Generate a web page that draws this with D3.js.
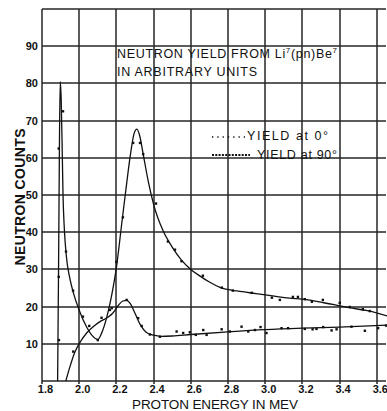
<!DOCTYPE html>
<html>
<head>
<meta charset="utf-8">
<script src="https://cdn.jsdelivr.net/npm/d3@7"></script>
</head>
<body style="margin:0">
<svg id="chart" width="387" height="411"></svg>
<script>
// tick values
const xTicks = [1.8, 2.0, 2.2, 2.4, 2.6, 2.8, 3.0, 3.2, 3.4, 3.6];
const yTicks = [10, 20, 30, 40, 50, 60, 70, 80, 90];

// smooth curve, yield at 0 deg (energy MeV, counts)
const curve0 = [
  [1.884, 0], [1.889, 30], [1.894, 65], [1.898, 80.5], [1.903, 76], [1.908, 64],
  [1.913, 50], [1.920, 41], [1.930, 34], [1.950, 27.5], [1.970, 23.5], [2.000, 19],
  [2.040, 14.5], [2.070, 12.2], [2.100, 11.2], [2.120, 12.8], [2.150, 17.5], [2.180, 24.5],
  [2.200, 30.5], [2.228, 42], [2.250, 51], [2.273, 60], [2.295, 66.5], [2.310, 67.7],
  [2.325, 66], [2.344, 61], [2.370, 54], [2.400, 47.5], [2.450, 40.5], [2.500, 36],
  [2.550, 32.5], [2.600, 30], [2.650, 28.2], [2.700, 26.6], [2.760, 25.1], [2.850, 24.2],
  [2.950, 23.5], [3.050, 22.8], [3.130, 22.3], [3.200, 22], [3.310, 21.1], [3.400, 20.2],
  [3.450, 19.7], [3.550, 18.9], [3.655, 17.5]
];

// smooth curve, yield at 90 deg
const curve90 = [
  [1.928, 0], [1.950, 3.8], [1.977, 7.8], [2.000, 10], [2.040, 12.9], [2.080, 14.8],
  [2.110, 15.9], [2.150, 17], [2.180, 18.2], [2.210, 20.3], [2.235, 21.5], [2.255, 21.7],
  [2.275, 20.8], [2.300, 18.2], [2.330, 15], [2.360, 13.1], [2.400, 12.3], [2.440, 12],
  [2.500, 12.1], [2.600, 12.5], [2.800, 13.2], [3.000, 13.8], [3.200, 14.2], [3.400, 14.5],
  [3.655, 15]
];

// measured points, 0 deg
const points0 = [
  [1.891, 11], [1.890, 28], [1.890, 62.5], [1.913, 72.5], [1.929, 34.8], [1.967, 24.3],
  [2.020, 17.3], [2.100, 11], [2.200, 32], [2.235, 44], [2.290, 64], [2.327, 64],
  [2.344, 61], [2.413, 47.7], [2.477, 37.5], [2.515, 35.3], [2.550, 32.2], [2.665, 28.3],
  [2.767, 25.1], [2.826, 24.3], [2.928, 23.7], [3.036, 22.4], [3.079, 21.8], [3.149, 22.6],
  [3.176, 22.6], [3.213, 22], [3.251, 21.3], [3.310, 21.8], [3.401, 21], [3.455, 19.9],
  [3.525, 19.3], [3.562, 18.8]
];

// measured points, 90 deg
const points90 = [
  [1.968, 7.9], [2.054, 14.8], [2.120, 17], [2.165, 19.1], [2.175, 19.6], [2.255, 21.8],
  [2.317, 16.9], [2.336, 14.8], [2.380, 12.5], [2.434, 11.9], [2.524, 13.3], [2.559, 12.9],
  [2.595, 13.1], [2.627, 12.4], [2.667, 13.7], [2.685, 12.4], [2.766, 13.9], [2.810, 13.3],
  [2.873, 14.6], [2.909, 13.3], [2.945, 13.7], [2.975, 14.5], [3.007, 12.9], [3.088, 14.2],
  [3.123, 14.2], [3.213, 14], [3.255, 13.9], [3.276, 14], [3.312, 14.5], [3.357, 13.6],
  [3.384, 13.9], [3.464, 14.6], [3.536, 13.5], [3.607, 14.2], [3.650, 14.9]
];

const plotLeft = 42, plotRight = 386, plotTop = 9, plotBottom = 381;
const font = "Liberation Sans, Arial, sans-serif";

const svg = d3.select("#chart");

// Scales
const x = d3.scaleLinear().domain([1.8, 3.655]).range([42, 387]);
const y = d3.scaleLinear().domain([0, 100]).range([plotBottom, plotTop]);

// Grid as one path built from the scales (0 and 100 make the bottom and top edges)
const gridPath = d3.path();
[0, ...yTicks, 100].forEach(v => {
  gridPath.moveTo(plotLeft, Math.round(y(v)));
  gridPath.lineTo(plotRight, Math.round(y(v)));
});
xTicks.forEach(v => {
  gridPath.moveTo(Math.round(x(v)), plotTop);
  gridPath.lineTo(Math.round(x(v)), plotBottom + 3);
});
svg.append("path")
  .attr("d", gridPath.toString())
  .attr("fill", "none")
  .attr("stroke", "#000")
  .attr("stroke-opacity", 0.85)
  .attr("stroke-width", 1.5);

// Y axis labels
const yAxis = d3.axisLeft(y)
  .tickValues(yTicks)
  .tickFormat(d3.format("d"))
  .tickSize(0)
  .tickPadding(4);

const yg = svg.append("g")
  .attr("transform", `translate(${plotLeft},0)`)
  .call(yAxis);
yg.select(".domain").remove();
yg.selectAll(".tick text")
  .attr("fill", "#111")
  .attr("font-size", 11).attr("font-weight", "bold")
  .attr("font-family", font);

// X axis labels
const xAxis = d3.axisBottom(x)
  .tickValues(xTicks)
  .tickFormat(d3.format(".1f"))
  .tickSize(0)
  .tickPadding(4);

const xg = svg.append("g")
  .attr("transform", `translate(0,${plotBottom})`)
  .call(xAxis);
xg.select(".domain").remove();
xg.selectAll(".tick text")
  .attr("dx", 3)
  .attr("fill", "#111")
  .attr("font-size", 11).attr("font-weight", "bold")
  .attr("font-family", font);

// Curves
const lineGen = d3.line()
  .x(d => x(d[0]))
  .y(d => y(d[1]))
  .curve(d3.curveMonotoneX);

const plot = svg.append("g");

[curve0, curve90].forEach(c => {
  plot.append("path")
    .datum(c)
    .attr("fill", "none")
    .attr("stroke", "#111")
    .attr("stroke-width", 1.3)
    .attr("d", lineGen);
});

// Measured points
[points0, points90].forEach(pts => {
  plot.append("g")
    .selectAll("rect")
    .data(pts)
    .join("rect")
    .attr("x", d => x(d[0]) - 1.2)
    .attr("y", d => y(d[1]) - 1.2)
    .attr("width", 2.4).attr("height", 2.4)
    .attr("fill", "#111");
});

// Title inside the plot
const title = svg.append("text")
  .attr("x", 117).attr("y", 58)
  .attr("fill", "#111")
  .attr("font-family", font)
  .attr("font-size", 12.5)
  .attr("textLength", 220);
title.append("tspan").text("NEUTRON YIELD FROM Li");
title.append("tspan").attr("font-size", 8).attr("dy", -5).text("7");
title.append("tspan").attr("dy", 5).text("(pn)Be");
title.append("tspan").attr("font-size", 8).attr("dy", -5).text("7");

svg.append("text")
  .attr("x", 117).attr("y", 76)
  .attr("fill", "#111")
  .attr("font-family", font)
  .attr("font-size", 12.5)
  .attr("textLength", 140)
  .text("IN ARBITRARY UNITS");

// Legend
svg.append("line")
  .attr("x1", 212).attr("x2", 245)
  .attr("y1", 137).attr("y2", 137)
  .attr("stroke", "#111").attr("stroke-width", 1.4)
  .attr("stroke-dasharray", "1.3,4");
svg.append("text")
  .attr("x", 247).attr("y", 140)
  .attr("fill", "#111")
  .attr("font-family", font)
  .attr("font-size", 12.5)
  .attr("textLength", 81)
  .text("YIELD at 0°");

svg.append("line")
  .attr("x1", 212).attr("x2", 250)
  .attr("y1", 155).attr("y2", 155)
  .attr("stroke", "#111").attr("stroke-width", 2)
  .attr("stroke-dasharray", "2,1.3");
svg.append("text")
  .attr("x", 257).attr("y", 159)
  .attr("fill", "#111")
  .attr("font-family", font)
  .attr("font-size", 12.5)
  .attr("textLength", 80)
  .text("YIELD at 90°");

// Axis titles
svg.append("text")
  .attr("transform", "translate(25,197) rotate(-90)")
  .attr("text-anchor", "middle")
  .attr("fill", "#111")
  .attr("font-family", font)
  .attr("font-size", 14)
  .attr("font-weight", "bold")
  .attr("textLength", 137)
  .text("NEUTRON COUNTS");

svg.append("text")
  .attr("x", 215).attr("y", 409)
  .attr("text-anchor", "middle")
  .attr("fill", "#111")
  .attr("font-family", font)
  .attr("font-size", 13.5)
  .attr("textLength", 166)
  .text("PROTON ENERGY IN MEV");
</script>
</body>
</html>
